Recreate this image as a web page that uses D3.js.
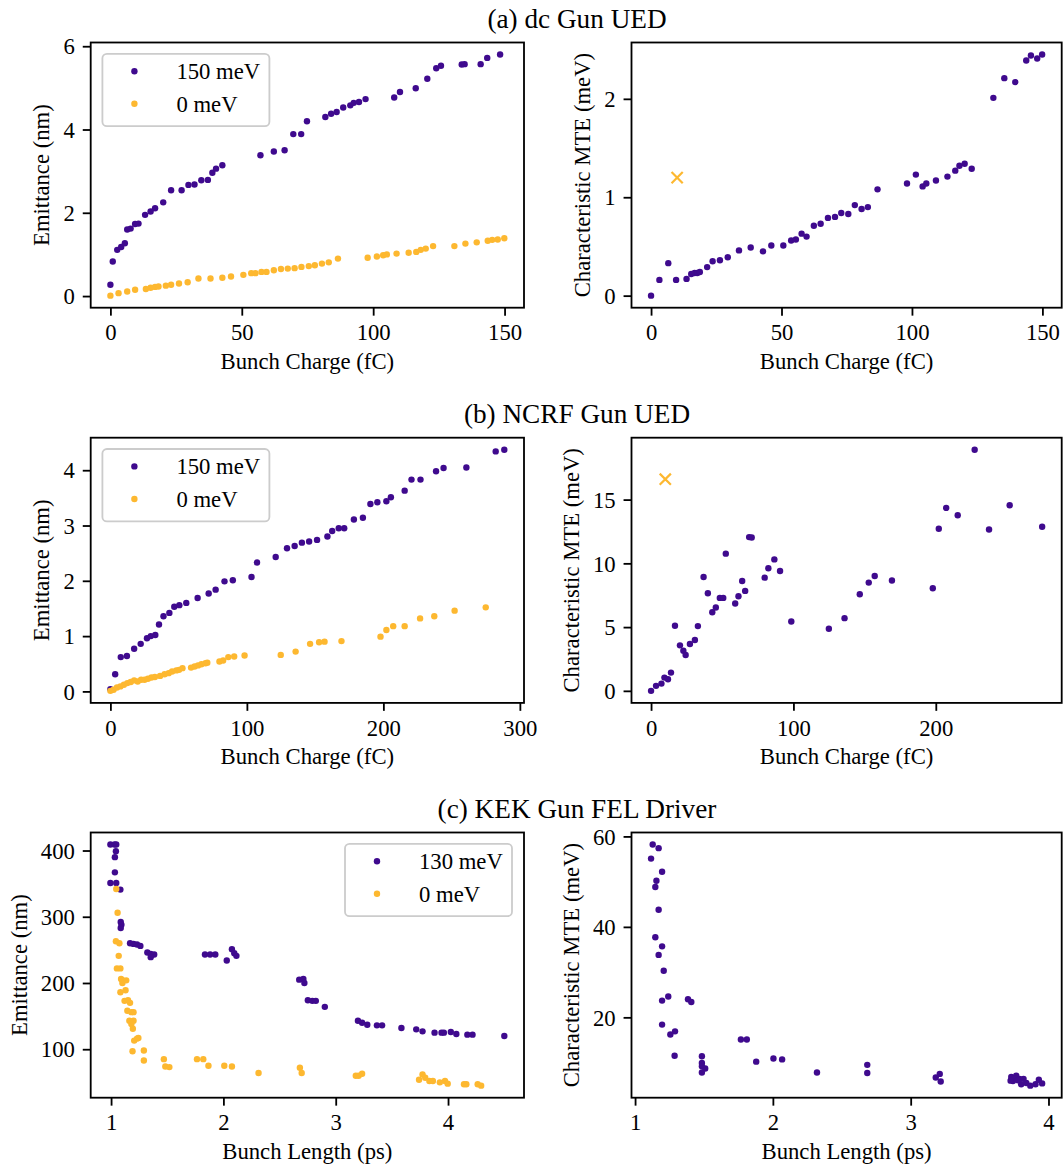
<!DOCTYPE html>
<html>
<head>
<meta charset="utf-8">
<script src="https://cdn.jsdelivr.net/npm/d3@7"></script>
<style>
  body { margin: 0; background: #fff; }
  svg { display: block; font-family: "Liberation Serif", "Times New Roman", serif; }
</style>
</head>
<body>
<svg id="fig" width="1064" height="1167"></svg>
<script>
// (a) dc gun UED
var dcQ150 = [0.0,0.9,2.6,4.1,5.5,6.4,7.7,9.4,10.7,13.2,15.3,17.0,20.1,23.1,27.1,29.7,32.0,34.6,37.1,38.8,40.2,42.6,57.1,62.2,66.3,69.6,72.6,74.8,81.8,84.0,86.1,88.6,91.3,92.6,94.6,97.1,108.0,110.2,116.2,120.6,124.0,125.8,133.7,134.8,140.9,143.4,148.3];
var dcEmit150 = [0.27,0.83,1.11,1.18,1.27,1.60,1.62,1.73,1.74,1.95,2.03,2.11,2.25,2.54,2.54,2.67,2.68,2.78,2.79,2.96,3.06,3.14,3.38,3.47,3.50,3.89,3.89,4.20,4.30,4.38,4.42,4.53,4.58,4.64,4.66,4.73,4.77,4.90,4.99,5.22,5.47,5.53,5.56,5.57,5.57,5.72,5.80];
var dcQ0 = [0.0,3.1,6.4,9.4,13.5,15.3,17.0,18.3,21.1,23.1,26.1,29.4,33.5,38.1,42.6,45.9,50.6,53.6,55.2,57.5,59.4,62.2,64.9,67.5,70.1,72.7,75.5,77.8,80.5,83.1,86.6,97.9,101.4,103.8,105.2,108.9,113.5,116.4,118.1,120.0,122.8,130.9,135.1,139.4,143.6,145.3,147.4,149.9];
var dcEmit0 = [0.01,0.07,0.11,0.15,0.17,0.20,0.22,0.23,0.25,0.27,0.30,0.33,0.42,0.42,0.44,0.47,0.51,0.55,0.55,0.58,0.58,0.62,0.65,0.66,0.67,0.70,0.72,0.74,0.78,0.81,0.90,0.92,0.95,0.98,1.00,1.02,1.04,1.06,1.11,1.14,1.20,1.20,1.26,1.29,1.33,1.35,1.36,1.39];
var dcQmte = [0.0,3.2,6.6,9.6,13.6,15.4,16.7,17.7,18.7,21.5,23.6,26.4,29.4,33.7,38.2,42.9,46.1,50.7,53.7,55.5,57.7,59.6,62.4,65.0,67.8,70.5,72.9,75.6,78.1,80.7,83.1,86.8,98.1,101.5,104.1,105.5,109.2,113.6,116.6,118.2,120.2,122.9,131.2,135.4,139.6,143.8,145.6,148.0,149.9];
var dcMte = [0.00,0.16,0.33,0.16,0.17,0.22,0.23,0.23,0.24,0.29,0.35,0.36,0.39,0.46,0.49,0.45,0.51,0.51,0.56,0.57,0.63,0.60,0.71,0.73,0.79,0.80,0.84,0.83,0.92,0.88,0.90,1.08,1.14,1.23,1.11,1.14,1.17,1.21,1.27,1.32,1.34,1.29,2.01,2.21,2.17,2.39,2.44,2.41,2.45];
var dcMteZero = [[10, 1.2]];

// (b) NCRF gun UED
var ncQ150 = [0.0,3.5,7.6,12.1,17.4,22.2,26.8,29.6,32.9,35.6,38.9,43.2,46.8,50.5,55.6,63.9,72.0,77.1,83.6,89.7,103.4,107.4,121.1,129.4,135.0,140.3,145.6,151.4,159.0,162.5,167.3,171.3,178.4,185.0,190.5,195.6,202.2,205.5,215.6,220.6,227.2,238.6,244.1,260.8,282.3,288.6];
var ncEmit150 = [0.04,0.31,0.62,0.64,0.77,0.86,0.96,1.00,1.02,1.21,1.36,1.42,1.53,1.56,1.60,1.69,1.77,1.84,1.99,2.01,2.07,2.33,2.43,2.59,2.63,2.69,2.71,2.74,2.80,2.90,2.95,2.95,3.11,3.14,3.39,3.42,3.44,3.51,3.63,3.83,3.83,3.98,4.04,4.05,4.34,4.37];
var ncQ0 = [0.0,2.3,4.8,7.3,9.9,12.4,14.9,17.4,20.0,22.5,25.0,27.5,30.1,32.6,36.4,39.7,42.7,45.2,48.3,50.3,52.8,59.1,61.7,64.2,66.7,69.7,71.0,79.9,82.6,86.4,90.7,98.3,124.8,135.7,146.3,152.9,156.9,169.3,197.9,202.2,207.2,215.6,226.9,237.3,252.2,275.0];
var ncEmit0 = [0.01,0.03,0.07,0.09,0.12,0.15,0.17,0.20,0.18,0.21,0.21,0.23,0.25,0.26,0.28,0.31,0.33,0.36,0.38,0.39,0.42,0.43,0.45,0.47,0.49,0.51,0.52,0.54,0.56,0.62,0.63,0.65,0.66,0.72,0.86,0.89,0.90,0.91,0.99,1.11,1.18,1.18,1.32,1.36,1.46,1.52];
var ncQmte = [0.0,3.5,7.3,9.4,11.9,14.0,16.8,20.3,22.7,24.3,27.3,30.8,32.9,36.9,39.9,43.0,45.5,48.3,50.7,52.5,59.1,61.4,64.0,66.1,68.9,70.7,79.8,82.4,86.6,90.6,98.5,124.9,135.9,146.6,152.9,157.1,169.2,197.9,202.1,207.3,215.4,227.3,237.4,251.9,274.7];
var ncMte = [0.0,0.39,0.57,1.04,0.91,1.43,5.10,3.57,3.15,2.81,3.67,3.99,5.08,8.93,7.66,6.17,6.54,7.29,7.29,10.76,6.85,7.42,8.62,7.84,12.06,12.03,8.88,9.61,10.31,9.40,5.44,4.87,5.70,7.58,8.49,9.01,8.65,8.05,12.71,14.35,13.77,18.91,12.66,14.56,12.87];
var ncMteZero = [[10, 16.6]];

// (c) KEK gun FEL driver
var kekL130 = [0.994,1.031,1.046,1.043,1.034,1.034,0.994,1.046,1.083,1.086,1.092,1.086,1.169,1.200,1.231,1.261,1.323,1.353,1.384,1.353,1.836,1.882,1.928,2.030,2.076,2.097,2.116,2.675,2.712,2.721,2.752,2.792,2.823,2.903,3.198,3.235,3.281,3.367,3.413,3.585,3.717,3.773,3.880,3.942,3.963,4.025,4.074,4.172,4.218,4.501];
var kekEmit130 = [409,409,409,399,390,367,351,351,341,292,288,283,260,259,258,256,246,244,243,239,243,243,243,234,251,245,241,205,206,200,174,173,173,164,143,140,137,136,136,132,130,127,125,125,125,126,123,122,122,120];
var kekL0 = [1.046,1.058,1.043,1.074,1.068,1.052,1.083,1.089,1.101,1.105,1.083,1.135,1.129,1.120,1.151,1.169,1.145,1.181,1.200,1.163,1.200,1.181,1.194,1.206,1.231,1.243,1.191,1.292,1.292,1.470,1.483,1.519,1.765,1.821,1.867,2.008,2.076,2.313,2.681,2.697,3.179,3.204,3.235,3.742,3.773,3.797,3.834,3.865,3.927,3.973,3.997,4.142,4.163,4.264,4.295];
var kekEmit0 = [342,306,263,260,241,222,222,206,200,204,186,204,189,173,174,170,158,156,156,143,143,138,131,113,116,117,97,98,83,85,74,73,85,85,75,75,74,64,72,64,60,60,63,54,62,57,52,52,50,52,48,47,47,47,45];
var kekLmte = [1.116,1.128,1.171,1.196,1.155,1.147,1.171,1.147,1.196,1.171,1.208,1.241,1.196,1.196,1.256,1.290,1.287,1.384,1.408,1.485,1.485,1.485,1.509,1.485,1.768,1.811,1.879,2.004,2.067,2.320,2.685,2.685,3.182,3.211,3.218,3.730,3.742,3.766,3.790,3.802,3.819,3.839,3.868,3.906,3.930,3.954,3.754,3.778,3.725];
var kekMte = [55.1,58.2,57.4,52.2,50.2,48.8,43.8,37.7,35.7,33.8,30.3,24.6,23.7,18.4,16.2,16.9,11.5,24.0,23.4,11.4,9.9,9.2,8.7,7.8,15.1,15.1,10.2,10.9,10.7,7.8,9.5,7.7,6.7,7.5,5.8,6.8,5.9,7.1,6.4,5.2,6.4,5.5,4.9,5.2,6.2,5.4,6.5,6.1,6.0];

var titles = ["(a) dc Gun UED", "(b) NCRF Gun UED", "(c) KEK Gun FEL Driver"];
var ticksDcQ = [0, 50, 100, 150], ticksDcEmit = [0, 2, 4, 6], ticksDcMte = [0, 1, 2];
var ticksNcQ = [0, 100, 200, 300], ticksNcQmte = [0, 100, 200], ticksNcEmit = [0, 1, 2, 3, 4], ticksNcMte = [0, 5, 10, 15];
var ticksKekL = [1, 2, 3, 4], ticksKekEmit = [100, 200, 300, 400], ticksKekMte = [20, 40, 60];

var purple = "#3f0a8e", orange = "#fdb830";
var FS = 22.7, pt = 2.27;

var svg = d3.select("#fig");
var cols = [[90.7, 524], [631.5, 1061.7]];
var rowTop = [42.5, 437.7, 832.5], rowH = 265.2;

function zip(a, b) { return a.map(function(v, i) { return [v, b[i]]; }); }

// matplotlib style autoscale: data extent plus 5% each side
function padded(vals) {
  var e = d3.extent(vals), m = (e[1] - e[0]) * 0.05;
  return [e[0] - m, e[1] + m];
}

function panel(o) {
  var x0 = cols[o.col][0], x1 = cols[o.col][1];
  var y0 = rowTop[o.row], y1 = y0 + rowH;
  var all = [];
  o.series.forEach(function(s) { all = all.concat(s.pts); });

  var x = d3.scaleLinear().domain(padded(all.map(function(d) { return d[0]; }))).range([x0, x1]);
  var y = d3.scaleLinear().domain(padded(all.map(function(d) { return d[1]; }))).range([y1, y0]);
  var g = svg.append("g");

  o.series.forEach(function(s) {
    if (s.cross) {
      g.selectAll(null).data(s.pts).enter().append("path")
        .attr("d", function(d) {
          var cx = x(d[0]), cy = y(d[1]), r = 5.6;
          return "M" + (cx - r) + "," + (cy - r) + "L" + (cx + r) + "," + (cy + r) +
                 "M" + (cx - r) + "," + (cy + r) + "L" + (cx + r) + "," + (cy - r);
        })
        .attr("stroke", s.color).attr("stroke-width", 2.2).attr("fill", "none");
    } else {
      g.selectAll(null).data(s.pts).enter().append("circle")
        .attr("cx", function(d) { return x(d[0]); })
        .attr("cy", function(d) { return y(d[1]); })
        .attr("r", 3.2)
        .attr("fill", s.color);
    }
  });

  var xa = g.append("g").attr("transform", "translate(0," + y1 + ")")
    .call(d3.axisBottom(x).tickValues(o.xt).tickSize(3.5 * pt).tickPadding(3.5 * pt).tickFormat(d3.format("d")));
  var ya = g.append("g").attr("transform", "translate(" + x0 + ",0)")
    .call(d3.axisLeft(y).tickValues(o.yt).tickSize(3.5 * pt).tickPadding(3.5 * pt).tickFormat(d3.format("d")));
  [xa, ya].forEach(function(a) {
    a.attr("font-size", FS).attr("font-family", null);
    a.select(".domain").remove();
    a.selectAll(".tick line").attr("stroke", "#000").attr("stroke-width", 0.8 * pt);
    a.selectAll(".tick text").attr("fill", "#000");
  });
  xa.selectAll(".tick text").attr("dy", "0.74em");
  ya.selectAll(".tick text").attr("dy", "0.34em");

  g.append("rect")
    .attr("x", x0).attr("y", y0).attr("width", x1 - x0).attr("height", y1 - y0)
    .attr("fill", "none").attr("stroke", "#000").attr("stroke-width", 0.8 * pt);

  g.append("text")
    .attr("x", (x0 + x1) / 2).attr("y", y1 + 61.5)
    .attr("text-anchor", "middle").attr("font-size", FS)
    .text(o.xlabel);

  // y label sits left of the widest tick label (bbox is in the axis group's own coords)
  var bb = ya.node().getBBox();
  var lx = x0 + bb.x - 4 * pt - 0.216 * FS;
  g.append("text")
    .attr("transform", "translate(" + lx + "," + ((y0 + y1) / 2) + ") rotate(-90)")
    .attr("text-anchor", "middle").attr("font-size", FS)
    .text(o.ylabel);

  if (o.legend) {
    var lw = 167, lh = 72.4;
    var lx0 = o.legend == "left" ? x0 + 11.7 : x1 - 12 - lw, ly0 = y0 + 11.3;
    var lg = g.append("g").attr("transform", "translate(" + lx0 + "," + ly0 + ")");
    lg.append("rect")
      .attr("width", lw).attr("height", lh).attr("rx", 4.5)
      .attr("fill", "#fff").attr("fill-opacity", 0.8)
      .attr("stroke", "#cccccc").attr("stroke-width", 0.8 * pt);
    var items = lg.selectAll(".item").data(o.series).enter().append("g")
      .attr("transform", function(d, i) { return "translate(0," + (17.4 + i * 32.6) + ")"; });
    items.append("circle").attr("cx", 32).attr("cy", 0).attr("r", 3.2)
      .attr("fill", function(d) { return d.color; });
    items.append("text").attr("x", 74).attr("dy", "0.34em").attr("font-size", FS)
      .text(function(d) { return d.name; });
  }
}

titles.forEach(function(t, i) {
  svg.append("text")
    .attr("x", 577).attr("y", rowTop[i] - 14.4)
    .attr("text-anchor", "middle").attr("font-size", 1.2 * FS)
    .text(t);
});

panel({ row: 0, col: 0, xt: ticksDcQ, yt: ticksDcEmit, legend: "left",
  xlabel: "Bunch Charge (fC)", ylabel: "Emittance (nm)",
  series: [{ name: "150 meV", color: purple, pts: zip(dcQ150, dcEmit150) },
           { name: "0 meV", color: orange, pts: zip(dcQ0, dcEmit0) }] });

panel({ row: 0, col: 1, xt: ticksDcQ, yt: ticksDcMte,
  xlabel: "Bunch Charge (fC)", ylabel: "Characteristic MTE (meV)",
  series: [{ color: purple, pts: zip(dcQmte, dcMte) },
           { color: orange, cross: true, pts: dcMteZero }] });

panel({ row: 1, col: 0, xt: ticksNcQ, yt: ticksNcEmit, legend: "left",
  xlabel: "Bunch Charge (fC)", ylabel: "Emittance (nm)",
  series: [{ name: "150 meV", color: purple, pts: zip(ncQ150, ncEmit150) },
           { name: "0 meV", color: orange, pts: zip(ncQ0, ncEmit0) }] });

panel({ row: 1, col: 1, xt: ticksNcQmte, yt: ticksNcMte,
  xlabel: "Bunch Charge (fC)", ylabel: "Characteristic MTE (meV)",
  series: [{ color: purple, pts: zip(ncQmte, ncMte) },
           { color: orange, cross: true, pts: ncMteZero }] });

panel({ row: 2, col: 0, xt: ticksKekL, yt: ticksKekEmit, legend: "right",
  xlabel: "Bunch Length (ps)", ylabel: "Emittance (nm)",
  series: [{ name: "130 meV", color: purple, pts: zip(kekL130, kekEmit130) },
           { name: "0 meV", color: orange, pts: zip(kekL0, kekEmit0) }] });

panel({ row: 2, col: 1, xt: ticksKekL, yt: ticksKekMte,
  xlabel: "Bunch Length (ps)", ylabel: "Characteristic MTE (meV)",
  series: [{ color: purple, pts: zip(kekLmte, kekMte) }] });
</script>
</body>
</html>
